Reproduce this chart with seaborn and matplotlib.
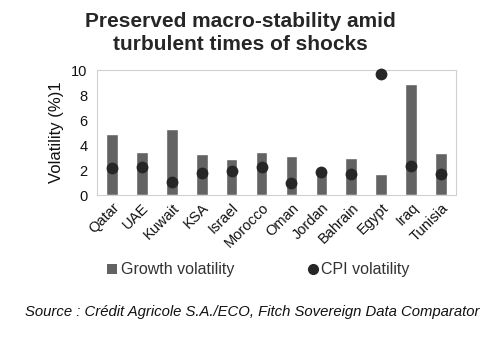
import matplotlib
matplotlib.use("Agg")
import matplotlib.pyplot as plt
import seaborn as sns
import pandas as pd
from matplotlib.lines import Line2D
from matplotlib.patches import Patch

countries = ["Qatar", "UAE", "Kuwait", "KSA", "Israel", "Morocco", "Oman",
             "Jordan", "Bahrain", "Egypt", "Iraq", "Tunisia"]
growth_vol = [4.86, 3.41, 5.25, 3.31, 2.88, 3.47, 3.15, 1.9, 2.93, 1.68, 8.88, 3.33]
cpi_vol = [2.13, 2.21, 1.07, 1.73, 1.89, 2.21, 0.96, 1.84, 1.68, 9.68, 2.32, 1.68]

df = pd.DataFrame({"country": countries, "growth": growth_vol, "cpi": cpi_vol})

sns.set_style("white")
plt.rcParams["font.family"] = ["Liberation Sans", "DejaVu Sans"]

fig = plt.figure(figsize=(5, 3.47), dpi=100)
ax = fig.add_axes([0.194, 0.438, 0.718, 0.360])

bar_color = "#636363"
dot_color = "#262626"

sns.barplot(data=df, x="country", y="growth", color=bar_color, width=0.39,
            saturation=1, ax=ax, zorder=2)
sns.stripplot(data=df, x="country", y="cpi", color=dot_color, jitter=False,
              size=8.5, ax=ax, zorder=3, clip_on=False)

ax.set_ylim(0, 10)
ax.set_yticks([0, 2, 4, 6, 8, 10])
ax.set_xlim(-0.5, len(countries) - 0.5)
ax.set_xlabel("")
ax.set_ylabel("Volatility (%)1", fontsize=12, color="#111111", labelpad=5)
ax.tick_params(axis="y", labelsize=10.5, length=0, pad=7, colors="#111111")
ax.tick_params(axis="x", labelsize=10.5, length=0, pad=4, colors="#111111")
for lab in ax.get_xticklabels():
    lab.set_rotation(45)
    lab.set_ha("right")
    lab.set_rotation_mode("anchor")
for s in ax.spines.values():
    s.set_color("#d0d0d0")
    s.set_linewidth(0.8)

fig.suptitle("Preserved macro-stability amid\nturbulent times of shocks",
             x=0.48, y=0.965, fontsize=15, fontweight="bold", linespacing=1.25)

handles = [Patch(facecolor=bar_color, edgecolor="none"),
           Line2D([], [], marker="o", color=dot_color, linestyle="none", markersize=7)]
fig.legend(handles, ["Growth volatility", "CPI volatility"], loc="center",
           bbox_to_anchor=(0.517, 0.222), ncol=2, frameon=False, fontsize=11.5,
           handlelength=0.6, handleheight=0.6, handletextpad=0.25, columnspacing=4.6,
           labelcolor="#333333")

fig.text(0.505, 0.1, "Source : Crédit Agricole S.A./ECO, Fitch Sovereign Data Comparator",
         ha="center", va="center", fontsize=10.7, style="italic", color="#111111")

fig.savefig("out.png", dpi=100)
